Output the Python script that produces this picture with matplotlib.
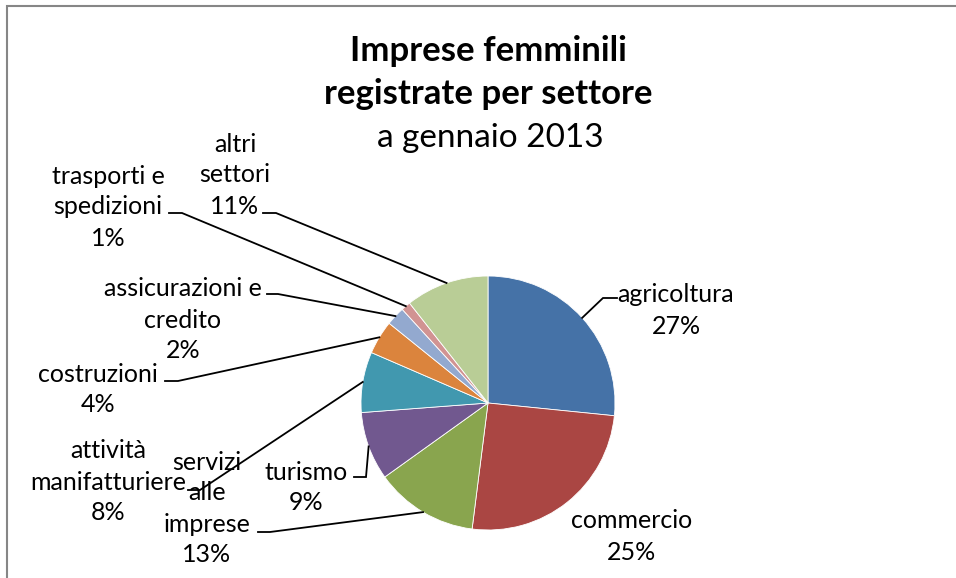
import matplotlib.pyplot as plt
import numpy as np
from matplotlib.patches import Rectangle

# dati (quote stimate dal grafico, etichette arrotondate)
settori = ["agricoltura", "commercio", "servizi alle imprese", "turismo",
           "attività manifatturiere", "costruzioni", "assicurazioni e credito",
           "trasporti e spedizioni", "altri settori"]
quote = [26.6, 25.4, 13.1, 8.7, 7.7, 4.3, 2.4, 1.2, 10.6]
colori = ["#4572A7", "#AA4643", "#89A54E", "#71588F", "#4198AF",
          "#DB843D", "#93A9CF", "#D19392", "#B9CD96"]

# righe di testo per ogni etichetta
righe = [["agricoltura"], ["commercio"], ["servizi", "alle", "imprese"], ["turismo"],
         ["attività", "manifatturiere"], ["costruzioni"], ["assicurazioni e", "credito"],
         ["trasporti e", "spedizioni"], ["altri", "settori"]]

W, H = 956, 578
FONT = "Lato"

# posizione etichette (pixel, y dall'alto): x centro, y prima riga, stub (x0, x1, y) o None
layout = [
    (676, 295, (617, 603, 298)),
    (632, 521, None),
    (207, 462, (258, 270, 532)),
    (306, 472, (354, 366, 477)),
    (108, 451, (188, 200, 490)),
    (98, 374, (165, 178, 381)),
    (183, 289, (267, 278, 294)),
    (108, 176, (169, 182, 213)),
    (235, 144, (263, 276, 213)),
]
passo = 31


def Y(y):
    return H - y


fig = plt.figure(figsize=(W / 100, H / 100), dpi=100)
ax = fig.add_axes([0, 0, 1, 1])

cx, cy, r = 488, 403, 127
wedges, _ = ax.pie(quote, colors=colori, startangle=90, counterclock=False,
                   center=(cx, Y(cy)), radius=r,
                   wedgeprops=dict(edgecolor="white", linewidth=0.6))
ax.set_xlim(0, W)
ax.set_ylim(0, H)
ax.set_aspect("auto")
ax.axis("off")

# cornice grigia
ax.add_patch(Rectangle((7, Y(1000)), 2000, 1000 - 5.5, fill=False,
                       edgecolor="#868686", linewidth=1.5, clip_on=False))

# titolo
ax.text(488, Y(61), "Imprese femminili", ha="center", va="baseline",
        fontsize=25, fontweight="bold", family=FONT)
ax.text(488, Y(104), "registrate per settore", ha="center", va="baseline",
        fontsize=25, fontweight="bold", family=FONT)
ax.text(490, Y(147), "a gennaio 2013", ha="center", va="baseline",
        fontsize=24, family=FONT)

for w, q, testo, (lx, ly, stub) in zip(wedges, quote, righe, layout):
    linee = testo + [f"{q:.0f}%"]
    for i, t in enumerate(linee):
        ax.text(lx, Y(ly + i * passo), t, ha="center", va="center",
                fontsize=18, family=FONT, color="black")
    if stub is not None:
        a = np.deg2rad((w.theta1 + w.theta2) / 2)
        px = cx + r * np.cos(a)
        py = Y(cy) + r * np.sin(a)
        x0, x1, sy = stub
        ax.plot([x0, x1, px], [Y(sy), Y(sy), py], color="black", linewidth=1.3,
                solid_joinstyle="miter")

fig.savefig("out.png", dpi=100, facecolor="white")
